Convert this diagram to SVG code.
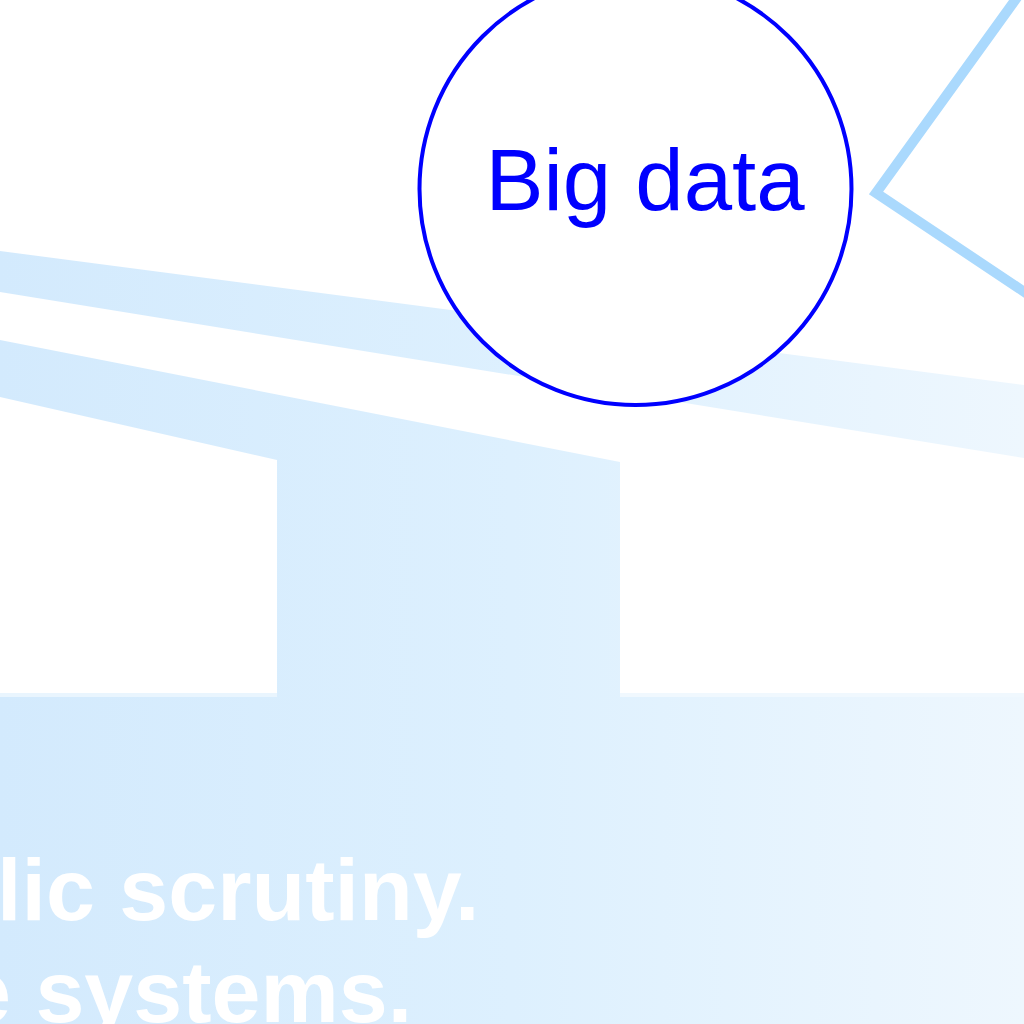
<svg xmlns="http://www.w3.org/2000/svg" width="1024" height="1024" viewBox="0 0 1024 1024">
  <defs>
    <linearGradient id="bg" x1="0" y1="0" x2="1024" y2="0" gradientUnits="userSpaceOnUse">
      <stop offset="0" stop-color="#d3eafd"/>
      <stop offset="0.5" stop-color="#ddf0fe"/>
      <stop offset="1" stop-color="#eef7fe"/>
    </linearGradient>
    <style>
      .band { fill: url(#bg); }
      .node { fill: #ffffff; stroke: #0000ff; stroke-width: 4; }
      .label { font-family: "Liberation Sans", Arial, sans-serif; font-size: 87px; fill: #0000ff; }
      .caption { font-family: "Liberation Sans", Arial, sans-serif; font-size: 88px; font-weight: bold; fill: #ffffff; }
      .edge { fill: none; stroke: #aad9fd; stroke-width: 10; stroke-linejoin: miter; }
    </style>
  </defs>
  <rect width="1024" height="1024" fill="#ffffff"/>
  <g id="background">
    <polygon class="band" points="0,251 1024,385 1024,458 0,292"/>
    <polygon class="band" points="0,340 620,462 620,693 1024,693 1024,1024 0,1024 0,693 277,693 277,460 0,397"/>
    <rect x="0" y="693" width="277" height="4" fill="#e9f5fe"/>
    <rect x="620" y="693" width="404" height="4" fill="#f0f8fe"/>
  </g>
  <g id="connectors">
    <polyline class="edge" points="1021,-8 876,193 1032,297"/>
  </g>
  <g id="node-big-data">
    <circle class="node" cx="635.5" cy="189" r="216"/>
    <text class="label" x="645" y="210" text-anchor="middle">Big data</text>
  </g>
  <g id="caption">
    <text class="caption" x="-3" y="920">lic scrutiny.</text>
    <text class="caption" x="-38" y="1022">e systems.</text>
  </g>
</svg>
